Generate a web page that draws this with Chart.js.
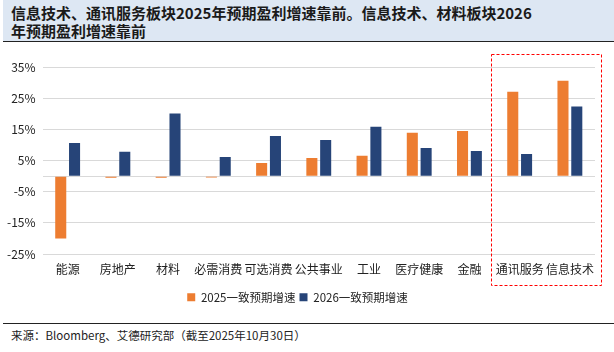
<!DOCTYPE html>
<html>
<head>
<meta charset="utf-8">
<script src="https://cdn.jsdelivr.net/npm/chart.js@4"></script>
<style>
  html, body { margin: 0; padding: 0; background: #fff; }
  body { width: 614px; height: 352px; position: relative; overflow: hidden;
         font-family: "Noto Sans CJK SC", sans-serif; }
  #title { position: absolute; left: 3px; top: 0; width: 611px; height: 42px;
           background: #dde7f3; border-bottom: 1.5px solid #222;
           font-size: 15px; font-weight: bold; line-height: 18px; color: #1a1a1a;
           padding: 4px 0 0 8px; box-sizing: border-box; }
  #wrap { position: absolute; left: 0; top: 44px; width: 614px; height: 276px; }
  #foot { position: absolute; left: 3px; top: 323px; width: 611px;
          border-top: 1.5px solid #222; font-size: 11.5px; color: #222;
          padding: 3px 0 0 8px; box-sizing: border-box; }
</style>
</head>
<body>
<div id="title">信息技术、通讯服务板块2025年预期盈利增速靠前。信息技术、材料板块2026<br>年预期盈利增速靠前</div>
<div id="wrap"><canvas id="chart"></canvas></div>
<div id="foot">来源：Bloomberg、艾德研究部（截至2025年10月30日）</div>
<script>
const categories = ['能源', '房地产', '材料', '必需消费', '可选消费', '公共事业', '工业', '医疗健康', '金融', '通讯服务', '信息技术'];
const growth2025 = [-20.0, -0.5, -0.5, -0.4, 4.2, 5.8, 6.5, 13.9, 14.5, 27.1, 30.6];
const growth2026 = [10.6, 7.8, 20.1, 6.1, 12.9, 11.6, 15.8, 9.0, 8.1, 7.1, 22.3];
const yTicks = [-25, -15, -5, 0, 5, 15, 25, 35];
const highlighted = ['通讯服务', '信息技术'];

// dashed box round the highlighted sectors
const boxPlugin = {
    id: 'highlightBox',
    afterDraw(chart) {
        const xs = chart.scales.x;
        const area = chart.chartArea;
        const cw = (area.right - area.left) / categories.length;
        const i0 = categories.indexOf(highlighted[0]);
        const i1 = categories.indexOf(highlighted[highlighted.length - 1]);
        const left = xs.getPixelForValue(i0) - cw / 2 - 4;
        const right = xs.getPixelForValue(i1) + cw / 2 + 6;
        const top = area.top - 13;
        const bottom = area.bottom + 31;
        const ctx = chart.ctx;
        ctx.save();
        ctx.strokeStyle = '#ff0000';
        ctx.lineWidth = 1;
        ctx.setLineDash([3, 2]);
        ctx.strokeRect(Math.round(left) + 0.5, Math.round(top) + 0.5, Math.round(right - left), Math.round(bottom - top));
        ctx.restore();
    }
};

const ctx = document.getElementById('chart').getContext('2d');
new Chart(ctx, {
    type: 'bar',
    data: {
        labels: categories,
        datasets: [{
            label: '2025一致预期增速',
            data: growth2025,
            backgroundColor: '#ed7d31',
            categoryPercentage: 0.55,
            barPercentage: 0.8
        }, {
            label: '2026一致预期增速',
            data: growth2026,
            backgroundColor: '#264478',
            categoryPercentage: 0.55,
            barPercentage: 0.8
        }]
    },
    options: {
        responsive: true,
        maintainAspectRatio: false,
        animation: false,
        layout: { padding: { top: 23, right: 19, bottom: 7, left: 0 } },
        plugins: {
            legend: {
                position: 'bottom',
                labels: {
                    boxWidth: 8, boxHeight: 8, padding: 4, color: '#222',
                    font: { family: 'Noto Sans CJK SC', size: 11.5 }
                }
            },
            tooltip: { enabled: false }
        },
        scales: {
            x: {
                grid: { display: false },
                border: { display: false },
                afterFit(axis) { axis.height += 11; },
                ticks: {
                    color: '#222', padding: 0, maxRotation: 0, autoSkip: false,
                    font: { family: 'Noto Sans CJK SC', size: 12 }
                }
            },
            y: {
                min: -25,
                max: 35,
                afterBuildTicks(axis) {
                    axis.ticks = yTicks.map(v => ({ value: v }));
                },
                grid: { color: '#d9d9d9', lineWidth: 1, drawTicks: false },
                border: { display: false },
                ticks: {
                    color: '#222', padding: 7,
                    font: { family: 'Noto Sans CJK SC', size: 12 },
                    callback: v => (v === 0 ? '' : v + '%')
                }
            }
        }
    },
    plugins: [boxPlugin]
});
</script>
</body>
</html>
